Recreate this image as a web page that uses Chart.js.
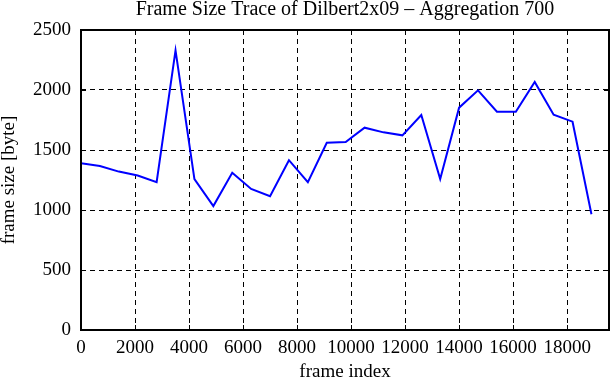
<!DOCTYPE html>
<html>
<head>
<meta charset="utf-8">
<script src="https://cdn.jsdelivr.net/npm/chart.js@4/dist/chart.umd.min.js"></script>
<style>
html,body{margin:0;padding:0;background:#fff;}
#wrap{width:611px;height:380px;position:relative;}
</style>
</head>
<body>
<div id="wrap"><canvas id="c" width="611" height="380"></canvas></div>
<script>
const frameIndex = [0,700,1400,2100,2800,3500,4200,4900,5600,6300,7000,7700,8400,9100,9800,10500,11200,11900,12600,13300,14000,14700,15400,16100,16800,17500,18200,18900];
const frameSize = [1390,1367,1320,1288,1232,2330,1258,1033,1311,1175,1115,1415,1232,1560,1566,1686,1647,1622,1792,1258,1853,1997,1819,1819,2067,1794,1736,965];
const xTicks = [0,2000,4000,6000,8000,10000,12000,14000,16000,18000];
const yTicks = [0,500,1000,1500,2000,2500];

const FONT = "'Liberation Serif','DejaVu Serif',serif";
const FS = 19;

const framePlugin = {
  id: 'framePlugin',
  afterLayout(chart) {
    const t = chart.titleBlock;
    if (t) { t.left = chart.chartArea.left; t.right = chart.chartArea.right; }
  },
  afterDatasetsDraw(chart) {
    const {ctx, chartArea: a, scales: {x, y}} = chart;
    ctx.save();
    ctx.strokeStyle = '#000';
    ctx.setLineDash([]);
    ctx.lineWidth = 1;
    const t = 5;
    xTicks.forEach(v => {
      const px = Math.round(x.getPixelForValue(v)) + 0.5;
      ctx.beginPath();
      ctx.moveTo(px, a.bottom); ctx.lineTo(px, a.bottom - t);
      ctx.moveTo(px, a.top); ctx.lineTo(px, a.top + t);
      ctx.stroke();
    });
    yTicks.forEach(v => {
      const py = Math.round(y.getPixelForValue(v)) + 0.5;
      ctx.beginPath();
      ctx.moveTo(a.left, py); ctx.lineTo(a.left + t, py);
      ctx.moveTo(a.right, py); ctx.lineTo(a.right - t, py);
      ctx.stroke();
    });
    ctx.lineWidth = 2;
    ctx.strokeRect(a.left, a.top, a.right - a.left, a.bottom - a.top);
    ctx.restore();
  }
};

new Chart(document.getElementById('c'), {
  type: 'line',
  data: {
    datasets: [{
      data: frameIndex.map((v, i) => ({x: v, y: frameSize[i]})),
      borderColor: '#0000ff',
      borderWidth: 2,
      pointRadius: 0,
      tension: 0,
      fill: false
    }]
  },
  options: {
    responsive: false,
    animation: false,
    devicePixelRatio: 1,
    layout: {padding: {left: 0, right: 2, top: 0, bottom: 0}},
    plugins: {
      legend: {display: false},
      tooltip: {enabled: false},
      title: {
        display: true,
        text: 'Frame Size Trace of Dilbert2x09 \u2013 Aggregation 700',
        color: '#000',
        font: {family: FONT, size: 20, weight: 'normal', lineHeight: 1},
        padding: {top: 0, bottom: 10}
      }
    },
    scales: {
      x: {
        type: 'linear',
        min: 0,
        max: 19550,
        afterFit(s) { s.height = 50; },
        afterBuildTicks(s) { s.ticks = xTicks.map(v => ({value: v})); },
        ticks: {
          color: '#000',
          font: {family: FONT, size: FS},
          padding: 7,
          maxRotation: 0,
          autoSkip: false,
          callback: v => String(v)
        },
        grid: {
          color: '#000',
          lineWidth: 1,
          drawTicks: false
        },
        border: {display: false, dash: [5, 4]},
        title: {
          display: true,
          text: 'frame index',
          color: '#000',
          font: {family: FONT, size: FS, lineHeight: 0.8},
          padding: {top: 0, bottom: 0}
        }
      },
      y: {
        type: 'linear',
        min: 0,
        max: 2500,
        afterFit(s) { s.width = 81; },
        afterBuildTicks(s) { s.ticks = yTicks.map(v => ({value: v})); },
        ticks: {
          color: '#000',
          font: {family: FONT, size: FS},
          padding: 10,
          callback: v => String(v)
        },
        grid: {
          color: '#000',
          lineWidth: 1,
          drawTicks: false
        },
        border: {display: false, dash: [5, 4]},
        title: {
          display: true,
          text: 'frame size [byte]',
          color: '#000',
          font: {family: FONT, size: FS, lineHeight: 1},
          padding: {top: 0, bottom: 0}
        }
      }
    }
  },
  plugins: [framePlugin]
});
</script>
</body>
</html>
